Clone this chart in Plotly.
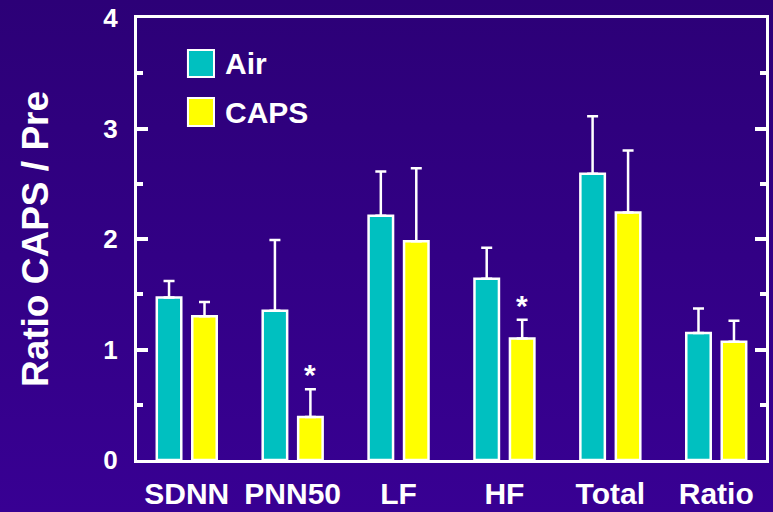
import plotly.graph_objects as go

categories = ["SDNN", "PNN50", "LF", "HF", "Total", "Ratio"]
series_names = ["Air", "CAPS"]
air_mean = [1.47, 1.35, 2.21, 1.64, 2.59, 1.15]
air_err = [0.15, 0.64, 0.40, 0.28, 0.52, 0.22]
caps_mean = [1.30, 0.39, 1.98, 1.10, 2.24, 1.07]
caps_err = [0.13, 0.25, 0.66, 0.17, 0.56, 0.19]
caps_significant = [False, True, False, True, False, False]
y_ticks = [0, 1, 2, 3, 4]

AIR_COLOR = "#00C0C0"
CAPS_COLOR = "#FFFF00"
BG_TOP = "#2C0077"
BG_BOTTOM = "#380093"
FONT = "Liberation Sans"

fig = go.Figure()

# background gradient on a hidden full-page subplot
fig.add_trace(go.Scatter(
    x=[0, 1, 1, 0, 0], y=[0, 0, 1, 1, 0], mode="lines", fill="toself",
    fillgradient=dict(type="vertical", colorscale=[[0, BG_BOTTOM], [1, BG_TOP]]),
    line=dict(width=0), hoverinfo="skip", showlegend=False,
    xaxis="x", yaxis="y"))

for name, means, errs, color in [
        (series_names[0], air_mean, air_err, AIR_COLOR),
        (series_names[1], caps_mean, caps_err, CAPS_COLOR)]:
    fig.add_trace(go.Bar(
        name=name, x=categories, y=means,
        marker=dict(color=color, line=dict(color="white", width=2.5)),
        error_y=dict(type="data", symmetric=False, array=errs,
                     arrayminus=[0] * len(errs), color="white",
                     thickness=2.5, width=5.5),
        xaxis="x2", yaxis="y2", showlegend=False))

BARGAP = 0.33
slot = (1 - BARGAP) / 2
annotations = []
for i, sig in enumerate(caps_significant):
    if sig:
        annotations.append(dict(
            x=i + slot / 2, y=caps_mean[i] + caps_err[i], xref="x2", yref="y2",
            text="<b>*</b>", showarrow=False, yanchor="bottom", yshift=-4,
            font=dict(family=FONT, size=30, color="white")))

# legend drawn as layout decorations
legend_rows = [(series_names[0], AIR_COLOR, 0.8665, 0.9276, 0.898),
               (series_names[1], CAPS_COLOR, 0.7557, 0.819, 0.787)]
shapes = []
for label, color, y0, y1, yc in legend_rows:
    shapes.append(dict(type="rect", xref="x2 domain", yref="y2 domain",
                       x0=0.081, x1=0.1224, y0=y0, y1=y1,
                       fillcolor=color, line=dict(color="white", width=2)))
    annotations.append(dict(x=0.136, y=yc, xref="x2 domain", yref="y2 domain",
                            text=label, showarrow=False, xanchor="left",
                            yanchor="middle",
                            font=dict(family=FONT, size=30, color="white",
                                      weight="bold")))

fig.update_layout(
    width=773, height=512,
    margin=dict(l=0, r=0, t=0, b=0, autoexpand=False),
    paper_bgcolor=BG_TOP, plot_bgcolor="rgba(0,0,0,0)",
    barmode="group", bargap=BARGAP, bargroupgap=0.31,
    shapes=shapes, annotations=annotations,
    font=dict(family=FONT, color="white"),
    xaxis=dict(domain=[0, 1], range=[0, 1], visible=False, fixedrange=True,
               automargin=False),
    yaxis=dict(domain=[0, 1], range=[0, 1], visible=False, fixedrange=True,
               automargin=False),
    xaxis2=dict(domain=[137 / 773, 766 / 773], anchor="y2", automargin=False,
                range=[-0.47, 5.47], showline=True, linecolor="white",
                linewidth=3, mirror=True, ticks="", showgrid=False,
                ticklabelstandoff=5,
                tickfont=dict(family=FONT, size=30, color="white", weight="bold")),
    yaxis2=dict(domain=[52 / 512, 494 / 512], anchor="x2", automargin=False,
                range=[0, 4], tickvals=y_ticks, showline=True, linecolor="white",
                linewidth=3, mirror="ticks", ticks="inside", ticklen=11,
                tickwidth=4, tickcolor="white", showgrid=False, zeroline=False,
                minor=dict(dtick=0.5, ticks="inside", ticklen=6, tickwidth=4,
                           tickcolor="white"),
                ticklabelstandoff=11,
                tickfont=dict(family=FONT, size=26, color="white", weight="bold"),
                title=dict(text="Ratio CAPS / Pre", standoff=44,
                           font=dict(family=FONT, size=37, color="white",
                                     weight="bold"))),
)

fig.write_html("out.html", config={"displayModeBar": False},
               post_script="document.body.style.margin='0';"
                           "document.body.style.background='" + BG_TOP + "';")
